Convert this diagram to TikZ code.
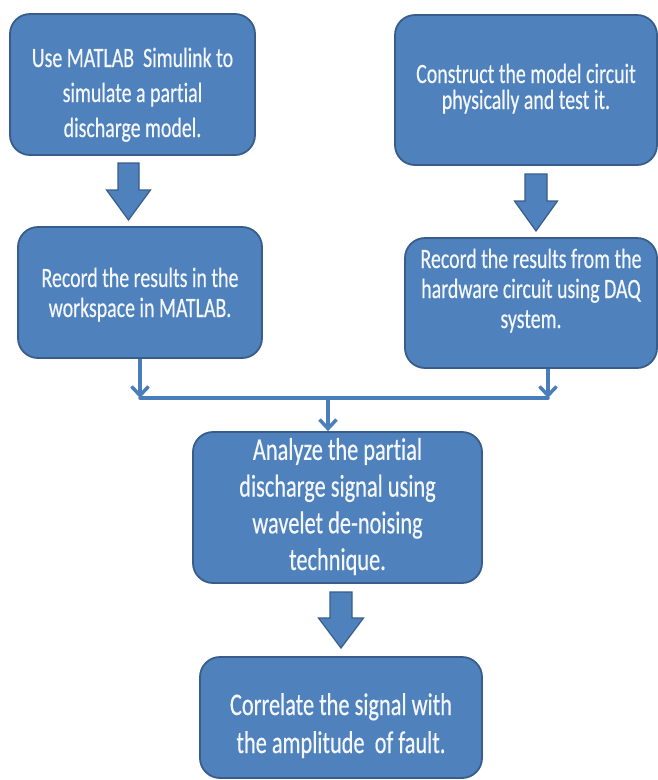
\documentclass[tikz,border=0pt]{standalone}
\usepackage{fontspec}
\setmainfont[FakeStretch=0.71,FakeBold=0.4,Ligatures={NoCommon}]{Carlito}
\usetikzlibrary{arrows.meta}
\definecolor{boxfill}{RGB}{79,129,189}
\definecolor{boxedge}{RGB}{56,93,138}
\definecolor{linkblue}{RGB}{74,126,187}
\definecolor{boxtextcol}{RGB}{244,247,252}
\tikzset{
  flowbox/.style={draw=boxedge, line width=1.8pt, fill=boxfill, rounded corners=20pt, inner sep=0pt},
  boxtext/.style={text=boxtextcol, align=center, inner sep=0pt, anchor=base},
  blockarrow/.style={draw=boxedge, line width=1.2pt, fill=boxfill, line join=miter},
  link/.style={draw=linkblue, line width=3.5pt},
  linktip/.style={-{Straight Barb[length=9pt,width=17pt]}}
}
\newcommand{\downblock}[6]{% cx, half shaft, half head, top, head base, tip
  \path[blockarrow] (#1-#2,#4) -- (#1+#2,#4) -- (#1+#2,#5) -- (#1+#3,#5) -- (#1,#6) -- (#1-#3,#5) -- (#1-#2,#5) -- cycle;}
\begin{document}
\begin{tikzpicture}[x=1pt,y=-1pt]
\useasboundingbox (0,0) rectangle (658,780);
% boxes
\node[flowbox, minimum width=245pt, minimum height=141pt] (b1) at (132.5,84.5) {};
\node[flowbox, minimum width=262pt, minimum height=150pt] (b2) at (526,90) {};
\node[flowbox, minimum width=244pt, minimum height=131pt] (b3) at (140,292.5) {};
\node[flowbox, minimum width=252pt, minimum height=130pt] (b4) at (531,303) {};
\node[flowbox, minimum width=289pt, minimum height=151pt] (b5) at (337.5,507.5) {};
\node[flowbox, minimum width=282pt, minimum height=121pt] (b6) at (341,717.5) {};
% texts (anchored at the baseline of the last line)
\node[boxtext, font=\fontsize{28}{35}\selectfont] (t1) at (132.5,137) {Use MATLAB\ \ Simulink to\\simulate a partial\\discharge model.};
\node[boxtext, font=\fontsize{28}{26}\selectfont] (t2) at (526,109) {Construct the model circuit\\physically and test it.};
\node[boxtext, font=\fontsize{28}{30}\selectfont] (t3) at (140,317) {Record the results in the\\workspace in MATLAB.};
\node[boxtext, font=\fontsize{28}{30}\selectfont] (t4) at (531,328) {Record the results from the\\hardware circuit using DAQ\\system.};
\node[boxtext, font=\fontsize{31.5}{36.7}\selectfont] (t5) at (337.5,570) {Analyze the partial\\discharge signal using\\wavelet de-noising\\technique.};
\node[boxtext, font=\fontsize{31.5}{38}\selectfont] (t6) at (341,753) {Correlate the signal with\\the amplitude\ \ of fault.};
% block arrows
\downblock{128.5}{10.5}{22}{163}{190}{220}
\downblock{536}{11}{21.5}{174}{201}{231}
\downblock{341}{11}{22.5}{592}{618}{648}
% thin connectors
\coordinate (jl) at (140,398);
\coordinate (jr) at (548,398);
\coordinate (jm) at (328,398);
\draw[link, linktip] (b3.south) -- (jl);
\draw[link, linktip] (b4.south -| jr) -- (jr);
\draw[link, line cap=round] (jl) -- (jr);
\draw[link, linktip] (jm) -- (jm |- b5.north);
\end{tikzpicture}
\end{document}
